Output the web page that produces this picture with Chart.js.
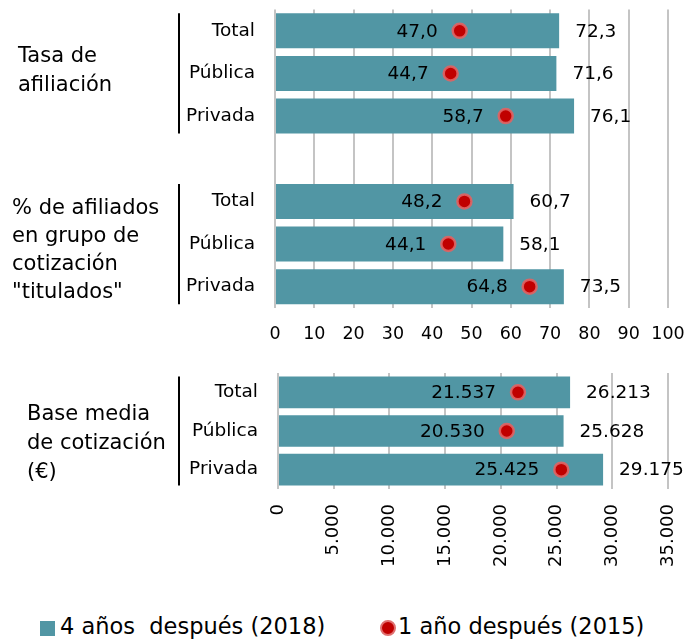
<!DOCTYPE html>
<html>
<head>
<meta charset="utf-8">
<script src="https://cdn.jsdelivr.net/npm/chart.js@4/dist/chart.umd.min.js"></script>
<style>
    body { margin: 0; background: #fff; font-family: "DejaVu Sans", sans-serif; }
    #wrap { position: relative; width: 688px; height: 641px; overflow: hidden; }
    canvas { position: absolute; left: 0; }
    .group { position: absolute; font-size: 21px; line-height: 28.5px; color: #000; white-space: nowrap; }
    #legend { position: absolute; top: 613px; left: 0; width: 688px; font-size: 22.5px; color: #000; white-space: pre; }
    #legend span { position: absolute; top: 0; }
    .sq { width: 15px; height: 15px; background: #5196a4; }
    .dot { width: 12px; height: 12px; border-radius: 50%; background: #c00000; border: 2px solid #e07070; }
</style>
</head>
<body>
<div id="wrap">
    <canvas id="pctChart" width="688" height="350" style="top:0"></canvas>
    <canvas id="euroChart" width="688" height="235" style="top:355px"></canvas>

    <div class="group" style="left:18px; top:41px">Tasa de<br>afiliación</div>
    <div class="group" style="left:12px; top:193px; line-height:28px">% de afiliados<br>en grupo de<br>cotización<br>"titulados"</div>
    <div class="group" style="left:27px; top:399px; line-height:29px">Base media<br>de cotización<br>(€)</div>

    <div id="legend">
        <span class="sq" style="left:40px; top:8px"></span>
        <span style="left:60px">4 años  después (2018)</span>
        <span class="dot" style="left:380px; top:7px"></span>
        <span style="left:398px">1 año después (2015)</span>
    </div>
</div>

<script>
// Data
const categories = ["Total", "Pública", "Privada"];

const tasa2018 = [72.3, 71.6, 76.1];
const tasa2015 = [47.0, 44.7, 58.7];

const titulados2018 = [60.7, 58.1, 73.5];
const titulados2015 = [48.2, 44.1, 64.8];

const base2018 = [26213, 25628, 29175];
const base2015 = [21537, 20530, 25425];

const pctTicks = [0, 10, 20, 30, 40, 50, 60, 70, 80, 90, 100];
const euroTicks = [0, 5000, 10000, 15000, 20000, 25000, 30000, 35000];

const teal = "#5196a4";
const red = "#c00000";
const font = "'DejaVu Sans', sans-serif";

// Spanish number formats
function fmtPct(v) {
    return v.toFixed(1).replace(".", ",");
}
function fmtEuro(v) {
    return String(Math.round(v)).replace(/\B(?=(\d{3})+(?!\d))/g, ".");
}

// Value labels: 2018 to the right of the bar, 2015 to the left of the dot
function valueLabels(fmt) {
    return {
        id: "valueLabels",
        afterDatasetsDraw(chart) {
            const ctx = chart.ctx;
            ctx.save();
            ctx.font = "18.5px " + font;
            ctx.fillStyle = "#000";
            ctx.textBaseline = "middle";
            chart.data.datasets.forEach((ds, i) => {
                const meta = chart.getDatasetMeta(i);
                meta.data.forEach((el, j) => {
                    const v = ds.data[j];
                    if (v === null) return;
                    if (ds.type === "bar") {
                        ctx.textAlign = "left";
                        ctx.fillText(fmt(v), el.x + 16, el.y + 1);
                    } else {
                        ctx.textAlign = "right";
                        ctx.fillText(fmt(v), el.x - 22, el.y + 1);
                    }
                });
            });
            ctx.restore();
        },
    };
}

// Black vertical line next to each group of categories
function groupLines(groups) {
    return {
        id: "groupLines",
        afterDraw(chart) {
            const y = chart.scales.y;
            const cell = (y.bottom - y.top) / y.getLabels().length;
            const ctx = chart.ctx;
            ctx.save();
            ctx.strokeStyle = "#000";
            ctx.lineWidth = 2;
            groups.forEach((g) => {
                ctx.beginPath();
                ctx.moveTo(179, y.getPixelForValue(g[0]) - cell * 0.41);
                ctx.lineTo(179, y.getPixelForValue(g[1]) + cell * 0.41);
                ctx.stroke();
            });
            ctx.restore();
        },
    };
}

function barSet(data) {
    return {
        type: "bar",
        label: "4 años después (2018)",
        data: data,
        backgroundColor: teal,
        barPercentage: 0.82,
        categoryPercentage: 1,
        order: 2,
    };
}

function dotSet(data) {
    return {
        type: "line",
        label: "1 año después (2015)",
        data: data,
        showLine: false,
        pointRadius: 7,
        pointBorderWidth: 2.5,
        pointBackgroundColor: red,
        pointBorderColor: "rgba(224, 100, 100, 0.9)",
        order: 1,
    };
}

function noPadding(scale) {
    scale.paddingTop = 0;
    scale.paddingBottom = 0;
    scale.paddingLeft = 0;
    scale.paddingRight = 0;
}

function baseOptions(ticks, yWidth, axisHeight, topPad, tickFmt, rotate) {
    return {
        responsive: false,
        animation: false,
        indexAxis: "y",
        layout: { padding: { top: topPad, right: 20, left: 0, bottom: 0 } },
        plugins: { legend: { display: false }, tooltip: { enabled: false } },
        scales: {
            x: {
                type: "linear",
                min: ticks[0],
                max: ticks[ticks.length - 1],
                afterBuildTicks: (scale) => {
                    scale.ticks = ticks.map((v) => ({ value: v }));
                },
                afterFit: (scale) => {
                    scale.height = axisHeight;
                    noPadding(scale);
                },
                ticks: {
                    color: "#000",
                    font: { family: font, size: rotate ? 18 : 17.5 },
                    padding: rotate ? 15 : 16,
                    minRotation: rotate ? 90 : 0,
                    maxRotation: rotate ? 90 : 0,
                    autoSkip: false,
                    callback: tickFmt,
                },
                grid: { color: "#c4c4c4", lineWidth: 2, drawTicks: false },
                border: { display: false },
            },
            y: {
                type: "category",
                afterFit: (scale) => {
                    scale.width = yWidth;
                    noPadding(scale);
                },
                ticks: {
                    color: "#000",
                    font: { family: font, size: 18.5 },
                    padding: 20,
                },
                grid: { display: false, drawTicks: false },
                border: { display: false },
            },
        },
    };
}

// Percentage chart: two groups with an empty row between them
const pctLabels = categories.concat([""], categories);
const pct2018 = tasa2018.concat([null], titulados2018);
const pct2015 = tasa2015.concat([null], titulados2015);

new Chart(document.getElementById("pctChart"), {
    data: {
        labels: pctLabels,
        datasets: [barSet(pct2018), dotSet(pct2015)],
    },
    options: baseOptions(pctTicks, 275, 42, 8, (v) => String(v), false),
    plugins: [valueLabels(fmtPct), groupLines([[0, 2], [4, 6]])],
});

// Euro chart
new Chart(document.getElementById("euroChart"), {
    data: {
        labels: categories,
        datasets: [barSet(base2018), dotSet(base2015)],
    },
    options: baseOptions(euroTicks, 278, 101, 18, (v) => fmtEuro(v), true),
    plugins: [valueLabels(fmtEuro), groupLines([[0, 2]])],
});
</script>
</body>
</html>
